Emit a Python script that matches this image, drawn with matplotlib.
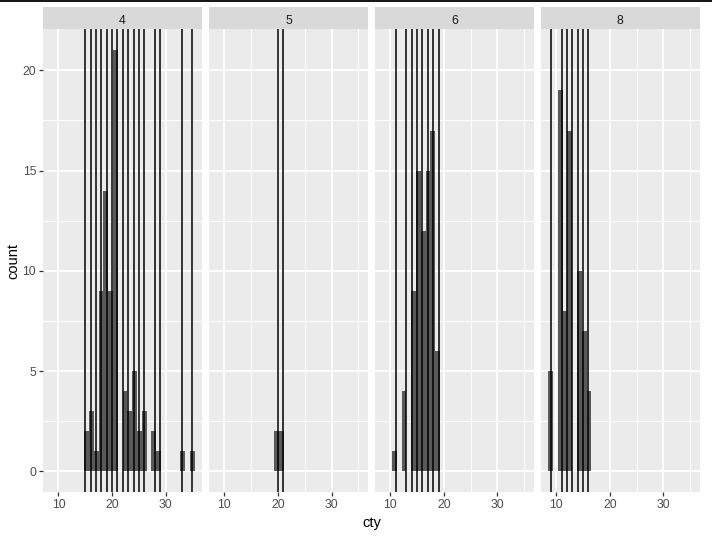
import numpy as np
import matplotlib.pyplot as plt
from matplotlib.lines import Line2D

# mpg data: how many cars have each cty value, split by cyl
cyl_levels = ['4', '5', '6', '8']
cty_4 = [15, 16, 17, 18, 19, 20, 21, 22, 23, 24, 25, 26, 28, 29, 33, 35]
n_4 = [2, 3, 1, 9, 14, 9, 21, 4, 3, 5, 2, 3, 2, 1, 1, 1]
cty_5 = [20, 21]
n_5 = [2, 2]
cty_6 = [11, 13, 14, 15, 16, 17, 18, 19]
n_6 = [1, 4, 9, 15, 12, 15, 17, 6]
cty_8 = [9, 11, 12, 13, 14, 15, 16]
n_8 = [5, 19, 8, 17, 10, 7, 4]

x_ticks = [10, 20, 30]
x_minor = [15, 25, 35]
y_ticks = [0, 5, 10, 15, 20]
y_minor = [2.5, 7.5, 12.5, 17.5]

facets = [(cty_4, n_4), (cty_5, n_5), (cty_6, n_6), (cty_8, n_8)]

# ggplot-style 30 bins over the full cty range, right-closed
lo = min(min(c) for c, _ in facets)
hi = max(max(c) for c, _ in facets)
width = (hi - lo) / 29
boundary = width / 2
origin = boundary + np.floor((lo - boundary) / width) * width
edges = origin + width * np.arange(31) + 1e-7

ymax = max(np.histogram(c, bins=edges, weights=n)[0].max() for c, n in facets)
xr = (edges[0], edges[-1])
xlim = (xr[0] - 0.05 * (xr[1] - xr[0]), xr[1] + 0.05 * (xr[1] - xr[0]))
ylim = (-0.05 * ymax, ymax * 1.05)

W, H = 712, 538
fig = plt.figure(figsize=(W / 100, H / 100), dpi=100)
fig.patch.set_facecolor('white')
plt.rcParams['font.family'] = ['Liberation Sans', 'DejaVu Sans']

left0, pw, gap = 43.3, 158.6, 7.3
ptop, pbot = 29.3, 492.3
strip_top = 7.3

for i, (cty, n) in enumerate(facets):
    x0 = left0 + i * (pw + gap)
    ax = fig.add_axes([x0 / W, 1 - pbot / H, pw / W, (pbot - ptop) / H])
    ax.set_facecolor('#EBEBEB')
    for v in x_minor:
        ax.axvline(v, color='white', lw=0.7, zorder=0)
    for v in y_minor:
        ax.axhline(v, color='white', lw=0.7, zorder=0)
    for v in x_ticks:
        ax.axvline(v, color='white', lw=1.35, zorder=0)
    for v in y_ticks:
        ax.axhline(v, color='white', lw=1.35, zorder=0)

    ax.hist(cty, bins=edges, weights=n, color='#595959', zorder=2)
    for v in cty:
        ax.axvline(v, color='black', lw=1.1, zorder=3)

    ax.set_xlim(xlim)
    ax.set_ylim(ylim)
    ax.set_xticks(x_ticks)
    ax.set_yticks(y_ticks)
    ax.tick_params(axis='both', length=2.7, width=0.9, color='#333333',
                   labelcolor='#4D4D4D', labelsize=8.8, pad=2.4)
    if i > 0:
        ax.tick_params(axis='y', left=False, labelleft=False)
    for s in ax.spines.values():
        s.set_visible(False)

    sax = fig.add_axes([x0 / W, 1 - ptop / H, pw / W, (ptop - strip_top) / H])
    sax.set_facecolor('#D9D9D9')
    sax.set_xticks([])
    sax.set_yticks([])
    for s in sax.spines.values():
        s.set_visible(False)
    sax.text(0.5, 0.4, cyl_levels[i], ha='center', va='center',
             fontsize=8.8, color='#1A1A1A', transform=sax.transAxes)

fig.text(13 / W, 1 - (ptop + pbot) / 2 / H, 'count', rotation=90,
         ha='center', va='center', fontsize=10.5, color='black')
fig.text((left0 + (4 * pw + 3 * gap) / 2) / W, 1 - 522.5 / H, 'cty',
         ha='center', va='center', fontsize=10.5, color='black')

# thin dark border line along the top edge of the screenshot
fig.add_artist(Line2D([0, 1], [1 - 0.9 / H, 1 - 0.9 / H], color='black',
                      lw=1.3, transform=fig.transFigure))

fig.savefig('out.png', dpi=100)
